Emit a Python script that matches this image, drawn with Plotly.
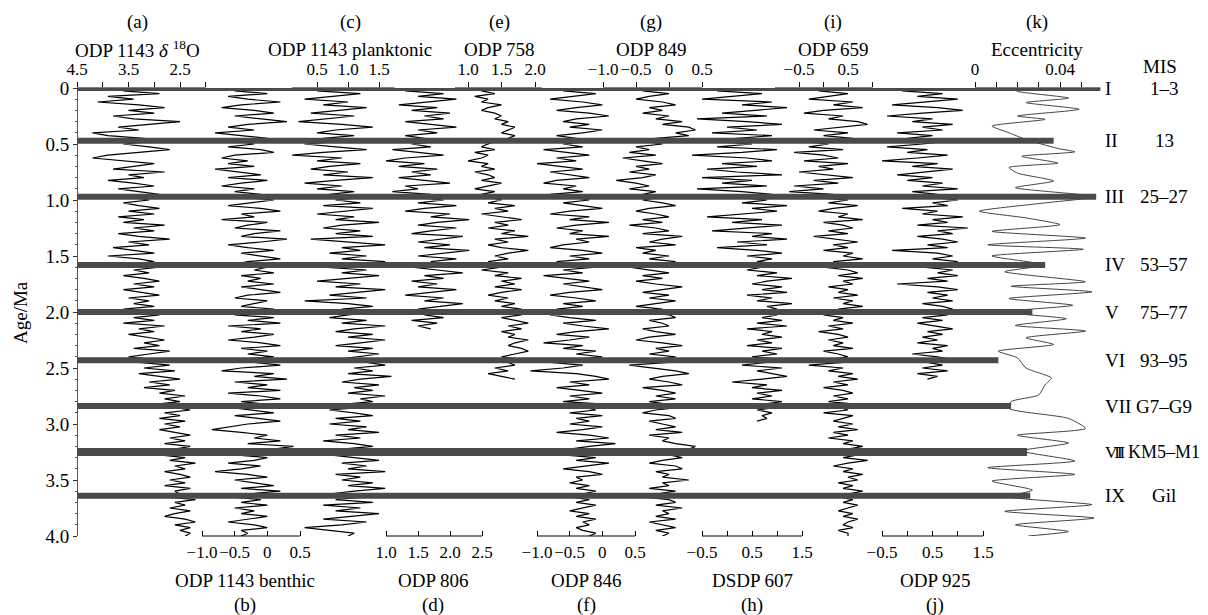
import plotly.graph_objects as go

# ---------------- data ----------------
AGE = [0.000, 0.025, 0.050, 0.075, 0.100, 0.125, 0.150, 0.175, 0.200, 0.225,
       0.250, 0.275, 0.300, 0.325, 0.350, 0.375, 0.400, 0.425, 0.450, 0.475,
       0.500, 0.525, 0.550, 0.575, 0.600, 0.625, 0.650, 0.675, 0.700, 0.725,
       0.750, 0.775, 0.800, 0.825, 0.850, 0.875, 0.900, 0.925, 0.950, 0.975,
       1.000, 1.025, 1.050, 1.075, 1.100, 1.125, 1.150, 1.175, 1.200, 1.225,
       1.250, 1.275, 1.300, 1.325, 1.350, 1.375, 1.400, 1.425, 1.450, 1.475,
       1.500, 1.525, 1.550, 1.575, 1.600, 1.625, 1.650, 1.675, 1.700, 1.725,
       1.750, 1.775, 1.800, 1.825, 1.850, 1.875, 1.900, 1.925, 1.950, 1.975,
       2.000, 2.025, 2.050, 2.075, 2.100, 2.125, 2.150, 2.175, 2.200, 2.225,
       2.250, 2.275, 2.300, 2.325, 2.350, 2.375, 2.400, 2.425, 2.450, 2.475,
       2.500, 2.525, 2.550, 2.575, 2.600, 2.625, 2.650, 2.675, 2.700, 2.725,
       2.750, 2.775, 2.800, 2.825, 2.850, 2.875, 2.900, 2.925, 2.950, 2.975,
       3.000, 3.025, 3.050, 3.075, 3.100, 3.125, 3.150, 3.175, 3.200, 3.225,
       3.250, 3.275, 3.300, 3.325, 3.350, 3.375, 3.400, 3.425, 3.450, 3.475,
       3.500, 3.525, 3.550, 3.575, 3.600, 3.625, 3.650, 3.675, 3.700, 3.725,
       3.750, 3.775, 3.800, 3.825, 3.850, 3.875, 3.900, 3.925, 3.950, 3.975,
       4.000]

ODP1143_D18O = [
    3.2, 3.6, 2.9, 3.9, 3.4, 4.1, 3.3, 2.8, 3.5, 3.0,
    3.8, 3.4, 2.5, 3.1, 3.7, 3.3, 4.2, 3.9, 3.2, 2.9,
    3.6, 3.1, 2.7, 3.3, 3.9, 4.2, 3.6, 3.0, 3.4, 3.8,
    2.8, 3.5, 3.2, 3.9, 3.4, 3.0, 3.7, 3.3, 2.9, 3.5,
    3.1, 3.6, 3.3, 2.9, 3.5, 3.0, 3.7, 3.2, 3.6, 2.8,
    3.4, 3.0, 3.7, 3.3, 2.7, 3.5, 3.1, 3.8, 3.4, 3.0,
    3.9, 3.3, 3.0, 3.5, 2.9, 3.4, 3.1, 3.6, 3.2, 2.9,
    3.4, 3.0, 3.6, 3.2, 2.9, 3.5, 3.1, 3.4, 3.0, 3.6,
    3.2, 2.9, 3.4, 3.0, 3.6, 2.8, 3.3, 3.0, 3.5, 3.1,
    2.8, 3.2, 2.9, 3.4, 2.7, 3.1, 3.5, 3.0, 3.3, 2.7,
    3.2, 2.6, 3.3, 2.9, 2.5, 3.1, 2.7, 3.2, 2.6, 2.9,
    2.4, 2.8, 2.5, 3.0, 2.6, 2.3, 2.8, 2.5, 2.9, 2.4,
    2.8, 2.5, 2.9, 2.6, 2.3, 2.7, 2.4, 2.8, 2.3, 2.6,
    2.5, 2.9, 2.4, 2.7, 2.2, 2.6, 2.4, 2.8, 2.5, 2.3,
    2.7, 2.4, 2.8, 2.3, 2.6, 2.5, 2.8, 2.2, 2.6, 2.4,
    2.7, 2.3, 2.6, 2.8, 2.4, 2.2, 2.6, 2.3, 2.5, 2.3,
    2.4]
ODP1143_BENTHIC = [
    -0.2, -0.5, 0.0, -0.6, -0.3, 0.2, -0.4, -0.7, -0.2, 0.1,
    -0.5, -0.1, 0.3, -0.3, -0.6, -0.2, -0.8, -0.4, 0.0, -0.5,
    -0.2, -0.6, -0.1, 0.1, -0.5, -0.7, -0.3, -0.6, -0.2, -0.8,
    -0.4, -0.1, -0.6, 0.0, -0.4, -0.7, -0.2, -0.5, -0.1, -0.4,
    0.1, -0.3, -0.6, -0.1, 0.2, -0.4, -0.2, -0.7, 0.0, -0.3,
    -0.5, 0.2, -0.2, -0.4, 0.3, -0.1, -0.6, -0.3, 0.1, -0.4,
    -0.1, 0.2, -0.3, -0.5, 0.0, -0.2, 0.1, -0.4, -0.1, -0.3,
    0.1, -0.4, -0.1, 0.2, -0.3, -0.5, 0.0, -0.2, -0.4, 0.1,
    -0.2, -0.5, 0.1, -0.3, 0.2, -0.6, -0.1, -0.4, 0.1, -0.2,
    -0.6, -0.1, 0.2, -0.4, 0.0, -0.3, 0.1, -0.5, -0.2, 0.2,
    -0.4, -0.7, 0.1, -0.2, 0.3, -0.5, 0.0, -0.3, 0.2, -0.6,
    -0.1, 0.2, -0.4, 0.0, -0.6, -0.2, 0.1, -0.5, -0.1, 0.2,
    -0.3, -0.6, -0.85, -0.4, 0.0, -0.2, 0.2, -0.3, 0.4, 0.1,
    -0.3, -0.5, 0.0, -0.2, -0.6, -0.1, -0.4, -0.8, -0.3, 0.0,
    -0.5, -0.2, 0.1, -0.4, 0.2, -0.3, -0.6, -0.1, -0.4, 0.0,
    -0.5, -0.2, -0.4, 0.0, -0.3, -0.6, -0.2, 0.0, -0.4, -0.3,
    -0.4]
ODP1143_PLANKTONIC = [
    0.9, 0.5, 1.2, 0.7, 0.3, 1.0, 0.6, 1.3, 0.8, 0.4,
    1.1, 0.7, 0.2, 0.9, 1.4, 0.8, 0.5, 1.1, 0.6, 1.0,
    0.3, 0.8, 1.3, 0.6, 0.1, 0.9, 0.5, 1.2, 0.7, 0.4,
    1.0, 0.6, 1.4, 0.8, 0.3, 0.9, 0.5, 1.1, 0.7, 1.3,
    0.8, 1.2, 0.6, 1.4, 0.9, 0.5, 1.1, 0.8, 1.5, 0.9,
    0.6, 1.2, 0.8, 1.4, 0.4, 1.0, 1.6, 0.9, 1.2, 0.7,
    1.3, 0.9, 1.6, 1.1, 0.6, 1.3, 0.9, 1.5, 1.0, 0.5,
    1.2, 0.8, 1.6, 1.1, 0.7, 1.3, 0.3, 1.0, 1.4, 0.9,
    1.5, 1.0, 0.7, 1.3, 0.9, 1.6, 1.1, 0.8, 1.4, 1.0,
    1.6, 1.2, 0.8, 1.4, 1.0, 1.5, 1.1, 0.8, 1.3, 1.6,
    1.1, 1.4, 1.0, 1.7, 1.2, 0.9, 1.5, 1.1, 1.4, 1.0,
    1.6, 1.2, 1.4, 0.9, 1.3, 0.7, 1.1, 1.4, 0.8, 1.2,
    0.7, 1.3, 1.0, 1.5, 0.8, 1.2, 0.6, 1.1, 1.4, 0.9,
    1.3, 0.7, 1.1, 1.5, 0.9, 1.3, 1.0, 1.6, 0.8, 1.2,
    0.9, 1.4, 1.0, 1.6, 1.1, 0.7, 1.3, 0.8, 1.4, 0.6,
    1.2, 0.8, 1.5, 1.0, 0.6, 1.3, 0.9, 0.3, 0.7, 1.1,
    1.0]
ODP806 = [
    1.7, 1.3, 1.9, 1.5, 2.1, 1.6, 1.2, 1.8, 1.4, 2.0,
    1.6, 1.9, 1.3, 1.7, 2.1, 1.5, 1.8, 1.3, 1.6, 1.9,
    1.4, 1.7, 1.1, 1.5, 1.9, 1.3, 1.0, 1.6, 1.2, 1.8,
    1.4, 1.7, 1.2, 1.6, 2.0, 1.3, 1.5, 1.1, 1.7, 1.4,
    1.9, 1.5, 2.1, 1.6, 1.3, 2.0, 1.7, 2.3, 1.8, 1.5,
    2.1, 1.7, 1.4, 2.2, 1.8, 1.5, 2.0, 1.6, 2.3, 1.9,
    1.5, 2.1, 1.7, 2.0, 1.4, 1.8, 2.2, 1.6, 1.9, 1.4,
    1.8, 1.5, 2.1, 1.7, 1.3, 1.9, 1.6, 2.2, 1.8, 1.5,
    2.0, 1.6, 1.9, 1.4, 1.8, 1.5, 1.7]
ODP758 = [
    1.3, 1.2, 1.4, 1.1, 1.3, 1.2, 1.5, 1.3, 1.2, 1.4,
    1.5, 1.4, 1.6, 1.5, 1.7, 1.6, 1.5, 1.7, 1.6, 1.4,
    1.3, 1.2, 1.4, 1.1, 1.3, 1.2, 1.0, 1.3, 1.2, 1.4,
    1.1, 1.3, 1.4, 1.2, 1.5, 1.3, 1.1, 1.4, 1.2, 1.3,
    1.5, 1.3, 1.7, 1.4, 1.6, 1.2, 1.5, 1.8, 1.4, 1.6,
    1.3, 1.7, 1.5, 1.9, 1.4, 1.6, 1.3, 1.5, 1.9, 1.6,
    1.4, 1.6, 1.3, 1.7, 1.5, 1.2, 1.6, 1.4, 1.8, 1.5,
    1.7, 1.4, 1.8, 1.5, 1.3, 1.6, 1.4, 1.7, 1.5, 1.8,
    1.6, 1.8, 1.5, 1.7, 1.9, 1.6, 1.8, 1.5, 1.7, 1.6,
    1.9, 1.7, 1.6, 1.8, 1.9, 1.7, 1.5, 1.8, 1.6, 1.7,
    1.4, 1.6, 1.3, 1.5, 1.7]
ODP846 = [
    -0.3, -0.6, -0.1, -0.5, -0.8, -0.3, 0.0, -0.4, -0.7, -0.2,
    0.1, -0.4, -0.6, -0.2, -0.5, 0.0, -0.3, -0.7, -0.4, -0.1,
    -0.6, -0.3, -0.9, -0.5, -0.2, -0.7, -0.4, -1.0, -0.6, -0.3,
    -0.8, -0.5, -0.2, -0.7, -0.9, -0.4, -0.6, -0.3, -0.8, -0.5,
    -0.2, -0.6, -0.3, 0.0, -0.5, -0.8, -0.2, -0.5, 0.1, -0.4,
    -0.7, -0.3, -0.5, 0.1, -0.4, -0.2, -0.6, -0.8, -0.3, 0.0,
    -0.5, -0.2, -0.7, -0.4, -0.1, -0.6, -0.3, -0.9, -0.5, -0.2,
    -0.6, -0.3, 0.0, -0.5, -0.8, -0.4, -0.1, -0.6, -0.3, -0.7,
    -0.3, -0.8, -0.5, -0.1, -0.6, -0.3, 0.1, -0.4, -0.7, -0.2,
    -0.5, -0.9, -0.3, -0.6, -0.1, -0.4, 0.0, -0.5, -0.8, -0.3,
    -0.6, -1.1, -0.4, -0.1, 0.1, -0.5, -0.2, -0.7, -0.3, 0.0,
    -0.5, -0.2, -0.6, 0.1, -0.3, -0.1, -0.5, 0.0, -0.4, -0.2,
    -0.5, 0.0, -0.3, -0.7, -0.2, 0.1, -0.4, 0.2, -0.2, -0.5,
    -0.3, -0.6, -0.1, -0.4, 0.1, -0.3, -0.6, -0.2, 0.0, -0.4,
    -0.3, -0.5, -0.2, -0.4, -0.1, -0.3, -0.5, -0.2, -0.4, -0.1,
    -0.3, -0.5, -0.2, -0.4, -0.1, -0.3, -0.2, -0.4, -0.3, -0.1,
    -0.2]
ODP849 = [
    -0.2, -0.4, 0.0, -0.3, -0.5, -0.1, 0.1, -0.3, -0.1, -0.4,
    0.0, -0.2, 0.2, -0.1, 0.3, 0.4, 0.1, 0.3, -0.2, -0.4,
    -0.1, -0.5, -0.3, -0.6, -0.2, -0.7, -0.4, -0.1, -0.5, -0.3,
    -0.6, -0.2, -0.4, -0.8, -0.5, -0.3, -0.6, -0.2, -0.4, -0.1,
    -0.4, -0.1, 0.1, -0.3, -0.5, -0.2, 0.0, -0.4, -0.1, -0.6,
    -0.2, 0.0, -0.4, 0.2, -0.1, -0.3, 0.1, -0.5, -0.2, -0.4,
    0.0, -0.3, 0.1, -0.2, -0.6, -0.3, 0.0, -0.4, -0.1, -0.5,
    -0.2, 0.2, -0.1, -0.4, 0.0, -0.3, 0.1, -0.2, -0.5, -0.1,
    -0.4, 0.0, 0.1, -0.3, -0.1, 0.0, -0.4, -0.2, 0.1, -0.3,
    -0.5, -0.1, 0.2, -0.2, 0.0, -0.3, 0.1, -0.2, 0.0, -0.6,
    -0.2, 0.1, 0.3, -0.1, -0.3, 0.0, 0.2, -0.4, -0.1, 0.1,
    -0.2, 0.1, -0.3, 0.0, 0.2, -0.2, -0.4, 0.0, 0.1, -0.3,
    -0.1, 0.1, -0.2, 0.2, -0.3, 0.0, -0.1, 0.1, 0.4, 0.3,
    -0.2, 0.0, 0.2, -0.1, -0.3, 0.1, 0.2, -0.2, 0.0, -0.1,
    0.3, -0.1, 0.0, -0.3, 0.1, -0.2, -0.4, 0.0, 0.1, -0.2,
    0.2, -0.1, 0.0, -0.2, 0.1, -0.3, -0.1, 0.1, -0.2, 0.0,
    -0.1]
DSDP607 = [
    0.4, -0.2, 0.7, 0.1, -0.5, 0.9, 0.3, 1.2, 0.5, -0.1,
    0.8, -0.6, 0.4, 1.1, 0.0, 0.6, -0.3, 0.9, 0.2, -0.5,
    0.5, -0.2, 1.0, 0.3, -0.7, 0.4, 0.9, -0.1, 0.6, -0.4,
    0.2, 1.1, -0.5, 0.5, -0.1, 0.8, -0.6, 0.3, 0.9, 0.1,
    0.8, 0.3, 1.2, 0.5, 1.0, 0.2, -0.4, 0.7, 0.1, 1.1,
    0.4, -0.3, 0.9, 0.5, 1.2, 0.2, 0.8, -0.2, 0.6, 1.1,
    0.4, 0.9, 0.6, 1.2, 0.7, 0.4, 1.0, 0.6, 1.3, 0.8,
    0.5, 1.1, 0.7, 1.2, 0.4, 0.9, 0.6, 1.3, 0.8, 1.0,
    0.5, 1.0, 0.7, 1.1, 0.6, 1.2, 0.4, 0.9, 0.7, 1.1,
    0.6, 0.9, 0.4, 1.1, 0.7, 1.0, 0.5, 1.2, 0.8, 0.3,
    1.1, 0.6, 0.9, 1.2, 0.7, 0.1, 0.8, 0.5, 1.1, 0.6,
    0.9, 0.5, 1.1, 0.7, 1.0, 0.6, 0.9, 0.7, 0.8, 0.6]
ODP659 = [
    0.3, -0.1, 0.5, 0.1, -0.3, 0.6, 0.2, 0.8, 0.0, -0.4,
    0.4, 0.1, 0.7, 0.9, 0.3, -0.2, 0.5, 0.0, 0.6, -0.5,
    0.1, -0.3, 0.4, -0.6, 0.0, 0.3, -0.4, 0.5, -0.1, 0.2,
    -0.5, 0.1, 0.6, -0.2, 0.3, -0.6, 0.0, -0.7, 0.2, -0.3,
    0.5, 0.1, 0.7, 0.2, -0.1, 0.5, 0.3, 0.8, 0.0, 0.4,
    0.6, 0.1, 0.5, -0.2, 0.3, 0.7, 0.2, 0.5, 0.0, 0.6,
    0.4, 0.8, 0.2, 0.6, 0.0, 0.5, 0.7, 0.3, 0.8, 0.4,
    0.6, 0.1, 0.5, 0.3, 0.7, 0.2, 0.6, 0.4, 0.8, 0.3,
    0.5, 0.0, 0.4, 0.2, 0.6, 0.1, 0.4, -0.1, 0.3, 0.5,
    0.1, 0.4, 0.2, 0.6, 0.0, 0.3, 0.5, 0.1, 0.4, -0.3,
    0.4, 0.1, 0.6, 0.3, 0.7, 0.2, 0.5, 0.0, 0.4, 0.6,
    0.2, 0.5, 0.1, 0.7, 0.3, 0.5, 0.0, 0.6, 0.4, 0.2,
    0.6, 0.3, 0.7, 0.2, 0.5, 0.1, 0.6, 0.4, 0.8, 0.5,
    0.3, 0.7, 0.4, 0.9, 0.5, 0.2, 0.6, 0.4, 0.8, 0.5,
    0.7, 0.3, 0.6, 0.4, 0.8, 0.5, 0.3, 0.6, 0.4, 0.7,
    0.5, 0.3, 0.6, 0.4, 0.7, 0.5, 0.4, 0.6, 0.3, 0.5,
    0.5]
ODP925 = [
    0.4, -0.1, 0.7, 0.2, 1.0, 0.4, -0.3, 0.6, 1.1, 0.3,
    -0.4, 0.5, 0.1, 0.9, 0.3, 0.7, -0.2, 0.5, 0.0, 0.8,
    0.3, -0.4, 0.4, 0.0, 0.8, 0.2, -0.5, 0.6, 0.1, 0.9,
    0.4, -0.2, 0.5, 0.0, 0.7, 0.3, 1.0, 0.1, 0.6, 0.4,
    1.0, 0.5, 0.8, -0.1, 0.6, 0.3, 1.1, 0.5, 0.8, 0.2,
    1.2, 0.6, 0.9, 0.2, 0.7, 1.0, 0.4, 0.8, -0.3, 0.6,
    0.9, 0.5, 1.0, 0.7, 0.3, 0.9, 0.6, 1.0, 0.4, 0.8,
    -0.2, 0.6, 1.0, 0.4, 0.8, 0.5, 0.9, 0.3, 0.7, 0.9,
    0.5, 0.8, 0.3, 0.7, 0.2, 0.6, 0.9, 0.4, 0.7, 0.3,
    0.6, 0.2, 0.8, 0.5, 0.7, 0.1, 0.6, 0.9, 0.4, 0.7,
    0.3, 0.8, 0.2, 0.6, 0.4]

ECC_AGE = [0.00, 0.03, 0.09, 0.13, 0.19, 0.25, 0.28, 0.34, 0.40, 0.46,
           0.54, 0.57, 0.61, 0.67, 0.71, 0.76, 0.83, 0.89, 0.97, 1.03,
           1.10, 1.16, 1.22, 1.28, 1.34, 1.40, 1.44, 1.50, 1.58, 1.64,
           1.73, 1.77, 1.82, 1.88, 1.94, 2.00, 2.06, 2.12, 2.17, 2.23,
           2.29, 2.35, 2.41, 2.50, 2.59, 2.65, 2.74, 2.80, 2.86, 2.95,
           3.04, 3.10, 3.17, 3.24, 3.33, 3.39, 3.45, 3.51, 3.59, 3.65,
           3.72, 3.78, 3.84, 3.90, 3.96, 4.00]
ECCENTRICITY = [0.017, 0.020, 0.044, 0.024, 0.049, 0.020, 0.033, 0.008, 0.016, 0.024,
                0.039, 0.047, 0.022, 0.039, 0.016, 0.020, 0.037, 0.019, 0.057, 0.031,
                0.002, 0.024, 0.040, 0.008, 0.052, 0.006, 0.051, 0.008, 0.033, 0.014,
                0.052, 0.017, 0.055, 0.016, 0.046, 0.013, 0.043, 0.019, 0.052, 0.024,
                0.037, 0.011, 0.020, 0.024, 0.036, 0.033, 0.030, 0.017, 0.016, 0.044,
                0.052, 0.020, 0.044, 0.022, 0.047, 0.006, 0.047, 0.008, 0.027, 0.016,
                0.055, 0.014, 0.056, 0.019, 0.044, 0.025]

BAND_AGE = [0.0, 0.47, 0.97, 1.58, 2.0, 2.43, 2.84, 3.25, 3.64]
BAND_ECC = [0.059, 0.037, 0.057, 0.033, 0.027, 0.011, 0.017, 0.0245, 0.026]
MIS_ROMAN = ["I", "II", "III", "IV", "V", "VI", "VII", "VIII", "IX"]
MIS_STAGE = ["1–3", "13", "25–27", "53–57", "75–77", "93–95", "G7–G9", "KM5–M1", "Gil"]

AGE_TICKS = [0, 0.5, 1.0, 1.5, 2.0, 2.5, 3.0, 3.5, 4.0]
AGE_TICKTEXT = ["0", "0.5", "1.0", "1.5", "2.0", "2.5", "3.0", "3.5", "4.0"]

# ---------------- layout geometry (pixels) ----------------
W, H = 1208, 615
PL, PR, PT, PB = 77, 1102, 88, 536
PW, PH = PR - PL, PB - PT
FONT = "Liberation Serif"


def px_x(p):
    return (p - PL) / PW


def px_y(p):
    return (PB - p) / PH


M = "−"
PANELS = [
    dict(name="a", title="ODP 1143 <i>δ</i> <sup>18</sup>O", side="top", vals=ODP1143_D18O,
         anchors=((4.5, 77), (2.5, 180)), dom=(77, 214), line=(4.5, 2.0),
         ticks=[4.5, 3.5, 2.5], labels=["4.5", "3.5", "2.5"], minor=[4.0, 3.0, 2.0], tx=137),
    dict(name="b", title="ODP 1143 benthic", side="bottom", vals=ODP1143_BENTHIC,
         anchors=((-1.0, 202), (0.5, 300)), dom=(198, 306), line=(-1.0, 0.5),
         ticks=[-1.0, -0.5, 0, 0.5], labels=[M + "1.0", M + "0.5", "0", "0.5"], minor=[], tx=245),
    dict(name="c", title="ODP 1143 planktonic", side="top", vals=ODP1143_PLANKTONIC,
         anchors=((0.5, 317), (1.5, 379)), dom=(292, 396), line=(0.0, 1.75),
         ticks=[0.5, 1.0, 1.5], labels=["0.5", "1.0", "1.5"], minor=[0.0], tx=350),
    dict(name="d", title="ODP 806", side="bottom", vals=ODP806,
         anchors=((1.0, 386), (2.5, 482)), dom=(383, 486), line=(1.0, 2.5),
         ticks=[1.0, 1.5, 2.0, 2.5], labels=["1.0", "1.5", "2.0", "2.5"], minor=[], tx=433),
    dict(name="e", title="ODP 758", side="top", vals=ODP758,
         anchors=((1.0, 468), (2.0, 535)), dom=(455, 548), line=(0.8, 2.1),
         ticks=[1.0, 1.5, 2.0], labels=["1.0", "1.5", "2.0"], minor=[], tx=499),
    dict(name="f", title="ODP 846", side="bottom", vals=ODP846,
         anchors=((-1.0, 537), (0.5, 635)), dom=(522, 640), line=(-1.0, 0.5),
         ticks=[-1.0, -0.5, 0, 0.5], labels=[M + "1.0", M + "0.5", "0", "0.5"], minor=[], tx=586),
    dict(name="g", title="ODP 849", side="top", vals=ODP849,
         anchors=((-1.0, 603), (0.5, 702)), dom=(598, 706), line=(-1.0, 0.5),
         ticks=[-1.0, -0.5, 0, 0.5], labels=[M + "1.0", M + "0.5", "0", "0.5"], minor=[], tx=651),
    dict(name="h", title="DSDP 607", side="bottom", vals=DSDP607,
         anchors=((-0.5, 702), (1.5, 802)), dom=(684, 806), line=(-0.5, 1.5),
         ticks=[-0.5, 0.5, 1.5], labels=[M + "0.5", "0.5", "1.5"], minor=[0.0, 1.0], tx=752),
    dict(name="i", title="ODP 659", side="top", vals=ODP659,
         anchors=((-0.5, 799), (0.5, 848)), dom=(775, 880), line=(-1.0, 1.0),
         ticks=[-0.5, 0.5], labels=[M + "0.5", "0.5"], minor=[-1.0, 0.0, 1.0], tx=833),
    dict(name="j", title="ODP 925", side="bottom", vals=ODP925,
         anchors=((-0.5, 882), (1.5, 983)), dom=(876, 990), line=(-0.5, 1.5),
         ticks=[-0.5, 0.5, 1.5], labels=[M + "0.5", "0.5", "1.5"], minor=[0.0, 1.0], tx=935),
    dict(name="k", title="Eccentricity", side="top", vals=ECCENTRICITY, ages=ECC_AGE,
         anchors=((0.0, 975), (0.04, 1060)), dom=(970, 1102), line=(0.0, 0.059),
         ticks=[0.0, 0.04], labels=["0", "0.04"], minor=[0.01, 0.02, 0.03, 0.05], tx=1037),
]

fig = go.Figure()
layout = dict(
    width=W, height=H,
    margin=dict(l=PL, r=W - PR, t=PT, b=H - PB, pad=0),
    paper_bgcolor="white", plot_bgcolor="rgba(0,0,0,0)",
    showlegend=False, hovermode=False,
    font=dict(family=FONT, size=18, color="black"),
    yaxis=dict(range=[4.0, 0.0], domain=[0, 1], anchor="free", position=0,
               tickvals=AGE_TICKS, ticktext=AGE_TICKTEXT, ticks="outside", ticklen=4,
               tickcolor="#333", showline=True, linecolor="#555", linewidth=1,
               showgrid=False, zeroline=False, tickfont=dict(family=FONT, size=19),
               minor=dict(dtick=0.1, ticks="outside", ticklen=2, tickcolor="#555")),
)
shapes = []
annotations = []

ecc_axis = None
for i, p in enumerate(PANELS):
    ax_id = "x" if i == 0 else f"x{i + 1}"
    ax_key = "xaxis" if i == 0 else f"xaxis{i + 1}"
    (v1, p1), (v2, p2) = p["anchors"]
    slope = (p2 - p1) / (v2 - v1)

    def val(px, v1=v1, p1=p1, slope=slope):
        return v1 + (px - p1) / slope

    rng = [val(p["dom"][0]), val(p["dom"][1])]
    top = p["side"] == "top"
    tick_dir = "outside" if top else "inside"
    axd = dict(
        domain=[px_x(p["dom"][0]), px_x(p["dom"][1])], range=rng, anchor="y",
        side=p["side"], showline=False, showgrid=False, zeroline=False,
        tickmode="array", tickvals=p["ticks"], ticktext=p["labels"], tickangle=0,
        ticks=tick_dir, ticklen=5, tickcolor="black", tickfont=dict(family=FONT, size=17),
        ticklabelstandoff=0 if top else 4,
    )
    if p["minor"]:
        axd["minor"] = dict(tickmode="array", tickvals=p["minor"], ticks=tick_dir,
                            ticklen=5, tickcolor="black", showgrid=False)
    layout[ax_key] = axd
    ages = p.get("ages", AGE)
    n = min(len(ages), len(p["vals"]))
    is_ecc = p["name"] == "k"
    if is_ecc:
        line = dict(color="#444", width=1, shape="spline", smoothing=0.6)
    else:
        line = dict(color="black", width=1.2)
    fig.add_trace(go.Scatter(x=p["vals"][:n], y=ages[:n], xaxis=ax_id, yaxis="y",
                             mode="lines", line=line, hoverinfo="skip"))
    # axis line
    yl = 1 if top else 0
    shapes.append(dict(type="line", xref=ax_id, yref="paper", x0=p["line"][0], x1=p["line"][1],
                       y0=yl, y1=yl, line=dict(color="black", width=1), layer="above"))
    # titles
    letter = f"({p['name']})"
    if top:
        ty, ly = px_y(49), px_y(22)
    else:
        ty, ly = px_y(580), px_y(605)
    annotations.append(dict(text=p["title"], x=px_x(p["tx"]), y=ty, xref="paper", yref="paper",
                            showarrow=False, xanchor="center", yanchor="middle",
                            font=dict(family=FONT, size=19)))
    annotations.append(dict(text=letter, x=px_x(p["tx"]), y=ly, xref="paper", yref="paper",
                            showarrow=False, xanchor="center", yanchor="middle",
                            font=dict(family=FONT, size=19)))
    if is_ecc:
        ecc_axis = (v1, p1, slope)

# MIS bands: from left axis to the eccentricity value
ev1, ep1, eslope = ecc_axis
for age, e, rom, st in zip(BAND_AGE, BAND_ECC, MIS_ROMAN, MIS_STAGE):
    x_end_px = ep1 + (e - ev1) * eslope
    shapes.append(dict(type="line", xref="paper", yref="y", x0=0, x1=px_x(x_end_px),
                       y0=age, y1=age, line=dict(color="#4a4a4a", width=8 if rom == "VIII" else 6),
                       layer="above"))
    rom_txt = rom if len(rom) < 4 else f'<span style="letter-spacing:-3px">{rom}</span>'
    annotations.append(dict(text=rom_txt, x=px_x(1103), y=age, xref="paper", yref="y",
                            showarrow=False, xanchor="left", yanchor="middle",
                            font=dict(family=FONT, size=19 if len(rom) < 4 else 17)))
    annotations.append(dict(text=st, x=px_x(1164), y=age, xref="paper", yref="y",
                            showarrow=False, xanchor="center", yanchor="middle",
                            font=dict(family=FONT, size=19 if len(st) < 6 else 18)))

annotations.append(dict(text="MIS", x=px_x(1160), y=px_y(66), xref="paper", yref="paper",
                        showarrow=False, xanchor="center", yanchor="middle",
                        font=dict(family=FONT, size=19)))
annotations.append(dict(text="Age/Ma", x=px_x(20), y=px_y(313), xref="paper", yref="paper",
                        showarrow=False, xanchor="center", yanchor="middle", textangle=-90,
                        font=dict(family=FONT, size=19)))

layout["shapes"] = shapes
layout["annotations"] = annotations
fig.update_layout(**layout)
fig.write_html("out.html")
